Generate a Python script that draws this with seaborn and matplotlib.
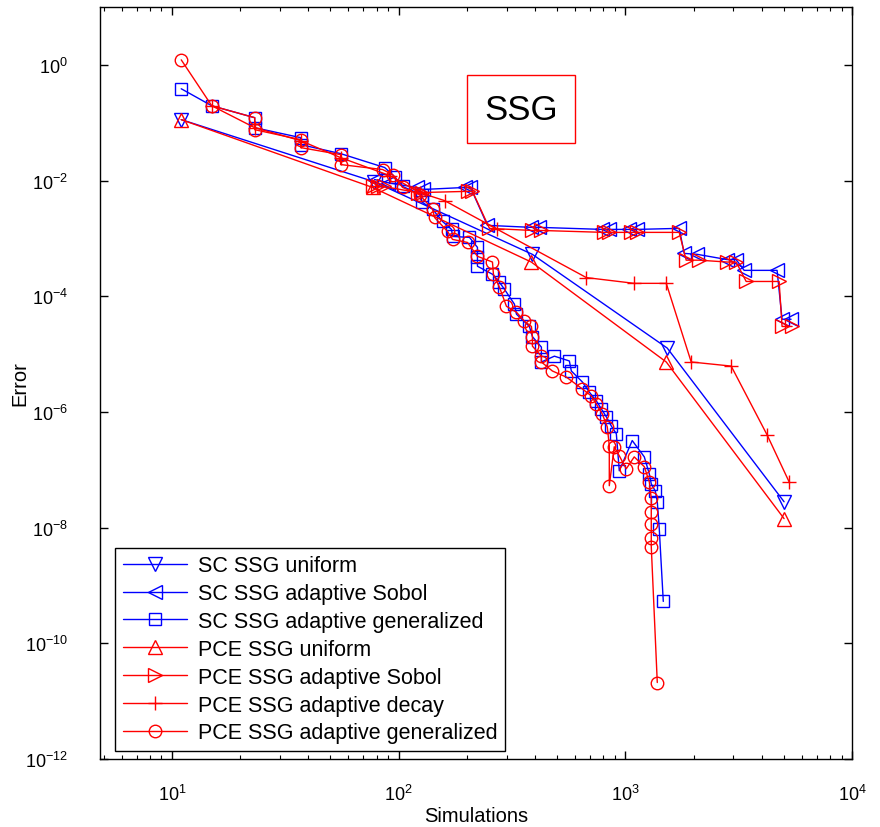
import numpy as np
import matplotlib
matplotlib.use("Agg")
import matplotlib.pyplot as plt
from matplotlib.ticker import LogLocator, NullLocator, LogFormatterMathtext
import seaborn as sns

# error vs number of simulations
sc_uniform_x = [11, 77.6, 389, 1531, 5016]
sc_uniform_y = [0.113, 0.0096, 5.3e-4, 1.27e-5, 2.8e-8]

sc_sobol_x = [78.4, 89.4, 120.0, 127.6, 197.3, 207.6, 246.6, 385.5, 418, 792, 850, 1041, 1130,
              1729, 1819, 2076, 2814, 3083, 3344, 4673, 4915, 5386]
sc_sobol_y = [0.0104, 0.0092, 0.0076, 0.0070, 0.0076, 0.0076, 0.00168, 0.00155, 0.00155, 0.00143,
              0.00143, 0.00143, 0.00143, 0.00149, 5.5e-4, 5.3e-4, 4.3e-4, 4.3e-4, 2.8e-4, 2.8e-4,
              4.0e-5, 4.0e-5]

sc_gen_x = [11, 15.0, 23.2, 23.2, 37.0, 37.0, 55.5, 86.8, 96.0, 104.1, 126.3, 126.3, 141.2, 156.3,
            171.2, 173.0, 205.5, 222.8, 222.8, 222.8, 259.5, 278.6, 293.1, 324.3, 331.1, 377.7,
            389.4, 426.6, 426.6, 486.7, 566.6, 578.2, 646.5, 694.1, 745.2, 784.1, 825, 868, 913,
            941, 1073, 1213, 1276, 1302, 1356, 1384, 1412, 1471]
sc_gen_y = [0.386, 0.196, 0.122, 0.082, 0.0551, 0.0418, 0.0292, 0.0168, 0.0117, 0.0079, 0.0057,
            0.0043, 0.0032, 0.00196, 0.00143, 0.00108, 0.00104, 7.0e-4, 4.7e-4, 3.3e-4, 2.4e-4,
            1.74e-4, 1.32e-4, 7.3e-5, 4.9e-5, 3.0e-5, 2.0e-5, 1.32e-5, 7.3e-6, 9.2e-6, 7.6e-6,
            5.1e-6, 3.3e-6, 2.2e-6, 1.55e-6, 1.13e-6, 8.2e-7, 5.7e-7, 4.2e-7, 9.6e-8, 3.2e-7,
            1.67e-7, 8.5e-8, 5.7e-8, 4.3e-8, 2.8e-8, 9.6e-9, 5.3e-10]

pce_uniform_x = [11, 76.8, 385, 1516, 5016]
pce_uniform_y = [0.113, 0.0076, 3.9e-4, 7.3e-6, 1.43e-8]

pce_sobol_x = [76.8, 80.8, 85.9, 121.2, 126.3, 201.4, 211.8, 251.7, 389.4, 426.6, 808, 850, 1063,
               1130, 1729, 1856, 2119, 2814, 3083, 3413, 4770, 4915, 5441]
pce_sobol_y = [0.0079, 0.0079, 0.0079, 0.0062, 0.0062, 0.0065, 0.0065, 0.00149, 0.00137, 0.00137,
               0.00127, 0.00127, 0.00127, 0.00127, 0.00127, 4.2e-4, 4.2e-4, 3.9e-4, 3.9e-4,
               1.8e-4, 1.8e-4, 3.0e-5, 3.0e-5]

pce_decay_x = [15.0, 23.2, 37.0, 55.5, 91.3, 123.7, 159.5, 273.0, 673.3, 1095, 1516, 1953, 2931,
               4223, 5278]
pce_decay_y = [0.196, 0.082, 0.0489, 0.0249, 0.0122, 0.0062, 0.0045, 0.00143, 2.1e-4, 1.67e-4,
               1.67e-4, 7.3e-6, 6.2e-6, 4.0e-7, 6.2e-8]

pce_gen_x = [11, 15.0, 23.2, 23.2, 37.0, 37.0, 55.5, 55.5, 85.0, 94.1, 104.1, 123.7, 141.2, 144.1,
             164.4, 173.0, 201.4, 222.8, 259.5, 262.1, 278.6, 299.1, 331.1, 359.1, 385.5, 389.4,
             389.4, 426.6, 426.6, 476.9, 549.6, 646.5, 708.3, 745.2, 792, 833, 850, 850, 894, 941,
             1010, 1095, 1213, 1276, 1302, 1302, 1302, 1302, 1302, 1384]
pce_gen_y = [1.22, 0.196, 0.122, 0.0757, 0.0509, 0.0371, 0.0281, 0.0189, 0.0155, 0.0127, 0.0076,
             0.0057, 0.0032, 0.0023, 0.00132, 9.6e-4, 8.5e-4, 4.9e-4, 3.9e-4, 2.4e-4, 1.43e-4,
             6.7e-5, 5.3e-5, 3.7e-5, 3.0e-5, 2.0e-5, 1.37e-5, 9.2e-6, 7.3e-6, 5.1e-6, 4.0e-6,
             2.5e-6, 1.89e-6, 1.37e-6, 9.2e-7, 5.5e-7, 2.6e-7, 5.3e-8, 2.5e-7, 1.74e-7, 1.04e-7,
             1.67e-7, 1.13e-7, 6.2e-8, 3.2e-8, 1.89e-8, 1.17e-8, 6.5e-9, 4.7e-9, 2.1e-11]

series = [
    ("SC SSG uniform", sc_uniform_x, sc_uniform_y, "#0000ff", "v", 10),
    ("SC SSG adaptive Sobol", sc_sobol_x, sc_sobol_y, "#0000ff", "<", 10),
    ("SC SSG adaptive generalized", sc_gen_x, sc_gen_y, "#0000ff", "s", 9),
    ("PCE SSG uniform", pce_uniform_x, pce_uniform_y, "#ff0000", "^", 10),
    ("PCE SSG adaptive Sobol", pce_sobol_x, pce_sobol_y, "#ff0000", ">", 10),
    ("PCE SSG adaptive decay", pce_decay_x, pce_decay_y, "#ff0000", "+", 10),
    ("PCE SSG adaptive generalized", pce_gen_x, pce_gen_y, "#ff0000", "o", 9),
]

sns.set_style("ticks")
plt.rcParams["font.family"] = ["Liberation Sans", "DejaVu Sans"]
plt.rcParams["mathtext.fontset"] = "custom"
plt.rcParams["mathtext.rm"] = "Liberation Sans"
for key in ["text.color", "axes.labelcolor", "xtick.color", "ytick.color", "axes.edgecolor"]:
    plt.rcParams[key] = "black"

fig = plt.figure(figsize=(8.8, 8.28), dpi=100)
ax = fig.add_axes([100 / 880, 68 / 828, 752 / 880, 752 / 828])

for label, xs, ys, col, mk, ms in series:
    sns.lineplot(x=xs, y=ys, ax=ax, sort=False, estimator=None, color=col, linewidth=1,
                 marker=mk, markersize=ms, markerfacecolor="none", markeredgecolor=col,
                 markeredgewidth=1, label=label)

ax.set_xscale("log")
ax.set_yscale("log")
ax.set_xlim(4.82, 1e4)
ax.set_ylim(1e-12, 10)

ax.xaxis.set_major_locator(LogLocator(base=10, numticks=10))
ax.xaxis.set_minor_locator(LogLocator(base=10, subs=np.arange(2, 10), numticks=20))
ax.set_yticks([1e-12, 1e-10, 1e-8, 1e-6, 1e-4, 1e-2, 1e0])
ax.yaxis.set_minor_locator(NullLocator())
ax.yaxis.set_major_formatter(LogFormatterMathtext())
ax.xaxis.set_major_formatter(LogFormatterMathtext())
ax.tick_params(which="both", direction="in", top=True, right=True, labelsize=13)
ax.tick_params(which="major", length=6, width=1)
ax.tick_params(which="minor", length=3, width=0.8)
ax.tick_params(axis="x", which="major", pad=18)
ax.tick_params(axis="y", which="major", pad=23)
for sp in ax.spines.values():
    sp.set_linewidth(1)

ax.set_xlabel("Simulations", fontsize=14.5)
ax.set_ylabel("Error", fontsize=14.5)
ax.xaxis.set_label_coords(0.5, -0.062)
ax.yaxis.set_label_coords(-0.094, 0.5)

ax.text(0.56, 0.864, "SSG", transform=ax.transAxes, fontsize=25, ha="center", va="center",
        color="black",
        bbox=dict(boxstyle="square,pad=0.5", facecolor="white", edgecolor="#ff0000", linewidth=1))

leg = ax.legend(loc="lower left", bbox_to_anchor=(0.02, 0.0106), borderaxespad=0, fontsize=15.5,
                frameon=True, fancybox=False, edgecolor="black", framealpha=1,
                handlelength=3.0, labelspacing=0.32, borderpad=0.35, handletextpad=0.5)
leg.get_frame().set_linewidth(1)

fig.savefig("out.png", dpi=100)
